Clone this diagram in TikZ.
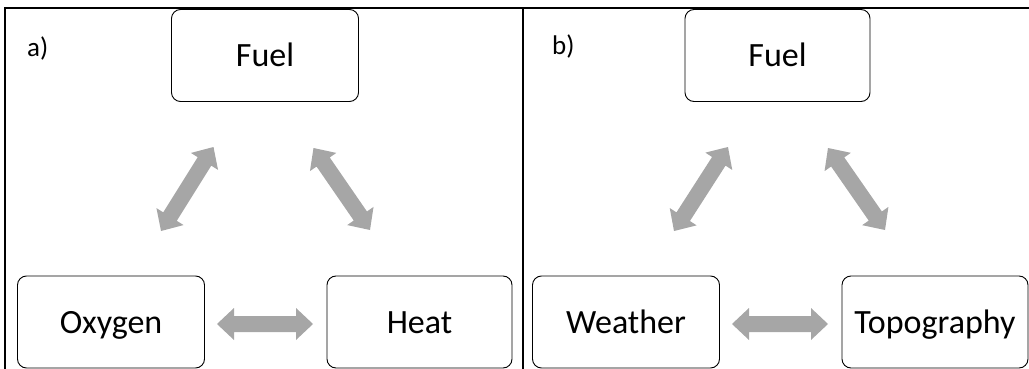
\documentclass[tikz,border=0pt]{standalone}
\usepackage{fontspec}
\setmainfont{Carlito}
\usetikzlibrary{calc}
\definecolor{arrowgray}{HTML}{A6A6A6}
\tikzset{
  boxnode/.style={draw=black, line width=0.9pt, rounded corners=9pt,
    minimum width=187pt, minimum height=92pt, inner sep=0pt,
    text height=23pt, text depth=1pt,
    font=\fontsize{34}{40}\selectfont},
  panellabel/.style={anchor=west, inner sep=0pt, font=\fontsize{27}{32}\selectfont},
  frameline/.style={draw=black, line width=1.3pt},
  arrowfill/.style={fill=arrowgray}
}
\newcommand\biarrow[2]{%
  \fill[arrowfill] (#1)
    -- ($(#1)!17pt!(#2)!16pt!90:(#2)$)
    -- ($(#1)!17pt!(#2)!8pt!90:(#2)$)
    -- ($(#2)!17pt!(#1)!8pt!-90:(#1)$)
    -- ($(#2)!17pt!(#1)!16pt!-90:(#1)$)
    -- (#2)
    -- ($(#2)!17pt!(#1)!16pt!90:(#1)$)
    -- ($(#2)!17pt!(#1)!8pt!90:(#1)$)
    -- ($(#1)!17pt!(#2)!8pt!-90:(#2)$)
    -- ($(#1)!17pt!(#2)!16pt!-90:(#2)$)
    -- cycle;}
\begin{document}
\begin{tikzpicture}[x=1pt,y=-1pt]
\useasboundingbox (0,0) rectangle (1029,369);
% frame
\coordinate (tl) at (5,8);
\coordinate (tr) at (1029,8);
\coordinate (bl) at (5,369);
\coordinate (dt) at (523,8);
\coordinate (db) at (523,369);
\draw[frameline] (bl) -- (tl) -- (tr);
\draw[frameline] (dt) -- (db);
% panel a
\node[panellabel] (la) at (27,48) {a)};
\node[boxnode] (fuela) at (265,55.5) {Fuel};
\node[boxnode] (oxy) at (111,322) {Oxygen};
\node[boxnode, minimum width=185pt] (heat) at (419.5,322) {Heat};
\coordinate (a1s) at (161,231);
\coordinate (a1e) at (213.5,147);
\coordinate (a2s) at (313.5,148);
\coordinate (a2e) at (370,230);
\coordinate (a3s) at (217,324);
\coordinate (a3e) at (313,324);
\biarrow{a1s}{a1e}
\biarrow{a2s}{a2e}
\biarrow{a3s}{a3e}
% panel b
\node[panellabel] (lb) at (552,46) {b)};
\node[boxnode, minimum width=185pt] (fuelb) at (777.5,55.5) {Fuel};
\node[boxnode] (weather) at (626,322) {Weather};
\node[boxnode, minimum width=186pt] (topo) at (935,322) {Topography};
\coordinate (b1s) at (674,231);
\coordinate (b1e) at (728,147);
\coordinate (b2s) at (828,148);
\coordinate (b2e) at (885,230);
\coordinate (b3s) at (732,324);
\coordinate (b3e) at (828,324);
\biarrow{b1s}{b1e}
\biarrow{b2s}{b2e}
\biarrow{b3s}{b3e}
\end{tikzpicture}
\end{document}
